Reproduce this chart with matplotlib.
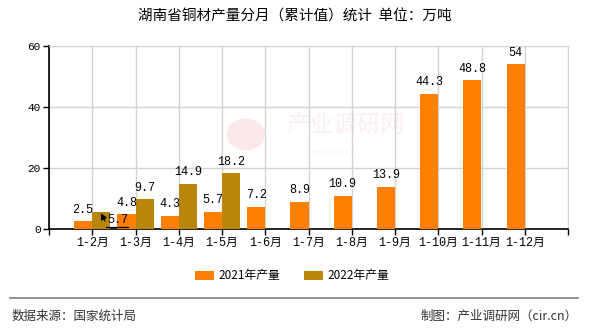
import matplotlib
matplotlib.use("Agg")
import matplotlib.pyplot as plt
from matplotlib.lines import Line2D
from matplotlib.patches import Ellipse
import numpy as np

plt.rcParams['font.family'] = ['Noto Sans CJK SC', 'DejaVu Sans']

months = ['1-2月', '1-3月', '1-4月', '1-5月', '1-6月', '1-7月',
          '1-8月', '1-9月', '1-10月', '1-11月', '1-12月']
output_2021 = [2.5, 4.8, 4.3, 5.7, 7.2, 8.9, 10.9, 13.9, 44.3, 48.8, 54]
output_2022 = [5.7, 9.7, 14.9, 18.2]
series_names = ['2021年产量', '2022年产量']
yticks = [0, 20, 40, 60]

c21 = '#FF8000'
c22 = '#B8860B'
mono = ['Liberation Mono', 'Noto Sans CJK SC']

fig = plt.figure(figsize=(5.9, 3.3), dpi=100)
ax = fig.add_axes([49 / 590, 1 - 229 / 330, 519 / 590, 183 / 330])

x = np.arange(len(months))
w = 0.42
b21 = ax.bar(x - w / 2, output_2021, w, color=c21, zorder=3, label=series_names[0])
x22 = np.arange(len(output_2022))
b22 = ax.bar(x22 + w / 2, output_2022, w, color=c22, zorder=3, label=series_names[1])

def fmt(v):
    return f'{v:g}'

for xi, v in zip(x, output_2021):
    ax.annotate(fmt(v), (xi - w / 2, v), xytext=(0, 4), textcoords='offset points',
                ha='center', va='bottom', fontsize=8.5, family=mono, zorder=5)

for xi, v in zip(x22, output_2022):
    if xi == 0:
        # first label pushed down beside the bar, with a leader arrow
        tx, ty = xi + 0.6, v * 0.5
        ax.annotate(fmt(v), (xi + 0.2, v * 0.91), xytext=(tx, ty),
                    ha='center', va='center', fontsize=8.5, family=mono, zorder=6,
                    arrowprops=dict(arrowstyle='-|>', color='black', lw=0.9,
                                    shrinkA=0, shrinkB=0, mutation_scale=9,
                                    relpos=(0.0, 0.0)))
        ax.plot([xi + 0.32, xi + 0.83], [0.65, 0.65], color='black', lw=0.9, zorder=6)
        continue
    ax.annotate(fmt(v), (xi + w / 2, v), xytext=(0, 4), textcoords='offset points',
                ha='center', va='bottom', fontsize=8.5, family=mono, zorder=5)

ax.set_xlim(-1, len(months))
ax.set_ylim(0, 60)
ax.set_yticks(yticks)
ax.set_yticklabels([str(t) for t in yticks], family=mono, fontsize=8)
ax.set_xticks(np.arange(-1, len(months) + 1))
ax.set_xticklabels([''] + months + [''], family=mono, fontsize=8.5)
ax.tick_params(axis='both', length=4, width=1, color='black', pad=2)

ax.grid(True, color='#D3D3D3', lw=1, zorder=0)
for s in ['top', 'right']:
    ax.spines[s].set_color('#D3D3D3')
for s in ['left', 'bottom']:
    ax.spines[s].set_color('black')
    ax.spines[s].set_linewidth(1.2)

# faint site watermark behind the bars
ax.add_patch(Ellipse((3.55, 31), 0.85, 10, color='#FBE9E9', zorder=1))
ax.text(5.85, 34, '产业调研网', fontsize=17, color='#FCEFEF',
        ha='center', va='center', zorder=1)
ax.text(5.6, 25, 'www.cir.cn', fontsize=6, color='#FAF1F1',
        ha='center', va='center', zorder=1)

fig.suptitle('湖南省铜材产量分月（累计值）统计  单位：万吨', y=1 - 17 / 330,
             fontsize=10.5, va='center')

fig.legend(handles=[b21, b22], labels=series_names, loc='center',
           bbox_to_anchor=(0.495, 1 - 276 / 330), ncol=2, frameon=False,
           fontsize=8.5, handlelength=1.6, handleheight=0.7,
           columnspacing=2.0, handletextpad=0.4)

fig.add_artist(Line2D([10 / 590, 578 / 590], [1 - 298 / 330, 1 - 298 / 330],
                      color='#808080', lw=1.2))
fig.text(12 / 590, 1 - 316 / 330, '数据来源：国家统计局', fontsize=9,
         color='#333333', va='center', ha='left')
fig.text(578 / 590, 1 - 316 / 330, '制图：产业调研网（cir.cn）', fontsize=9,
         color='#333333', va='center', ha='right')

fig.savefig('out.png', dpi=100)
